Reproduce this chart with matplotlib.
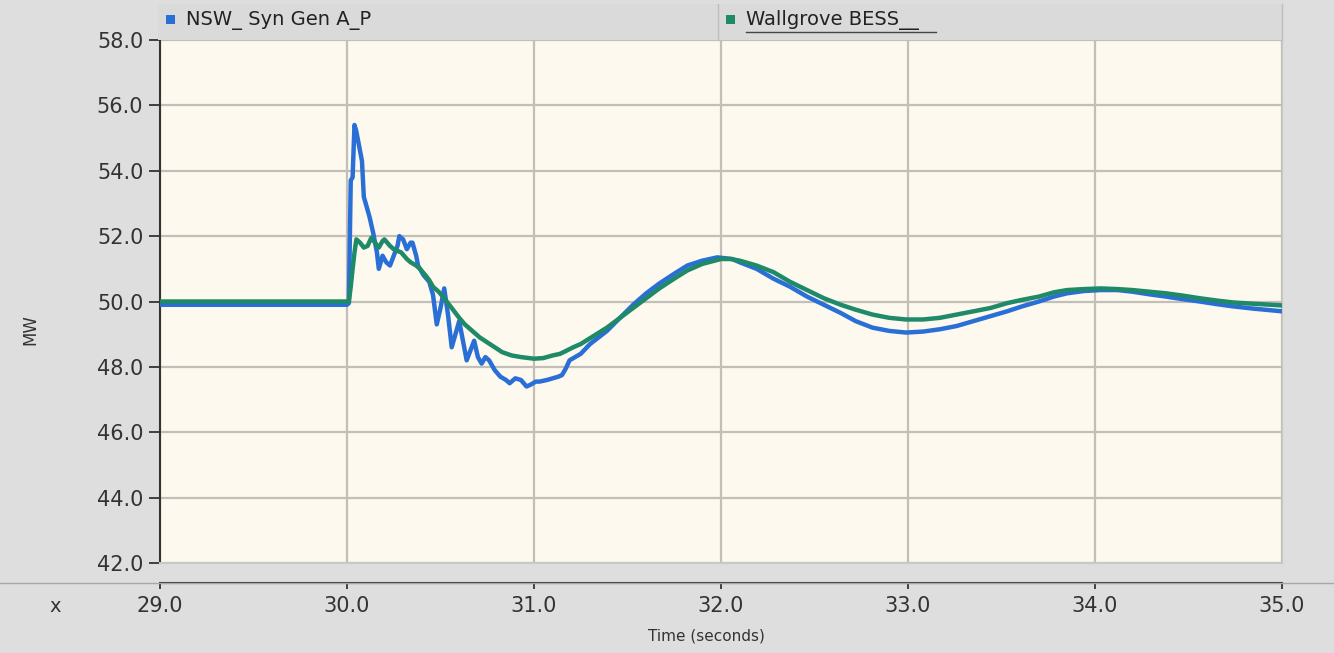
import matplotlib.pyplot as plt
from matplotlib.lines import Line2D
from matplotlib.patches import Rectangle

# NSW_ Syn Gen A_P (blue)
t_syn = [29.0, 30.0, 30.01, 30.02, 30.03, 30.04, 30.05, 30.06, 30.07, 30.08, 30.09,
         30.11, 30.12, 30.14, 30.16, 30.17, 30.19, 30.21, 30.23, 30.25, 30.27, 30.28,
         30.30, 30.32, 30.34, 30.35, 30.37, 30.38, 30.41, 30.44, 30.46, 30.48, 30.50,
         30.52, 30.54, 30.56, 30.58, 30.60, 30.62, 30.64, 30.66, 30.68, 30.70, 30.72,
         30.74, 30.76, 30.79, 30.82, 30.85, 30.87, 30.90, 30.93, 30.96, 30.98, 31.01,
         31.03, 31.07, 31.10, 31.13, 31.15, 31.17, 31.19, 31.22, 31.25, 31.30, 31.39,
         31.46, 31.53, 31.60, 31.67, 31.75, 31.82, 31.90, 31.98, 32.06, 32.10, 32.19,
         32.28, 32.37, 32.46, 32.55, 32.64, 32.72, 32.81, 32.90, 32.99, 33.08, 33.17,
         33.26, 33.35, 33.44, 33.53, 33.61, 33.70, 33.78, 33.85, 33.94, 34.03, 34.12,
         34.20, 34.29, 34.38, 34.47, 34.56, 34.65, 34.74, 34.85, 35.0]
p_syn = [49.9, 49.9, 49.95, 53.7, 53.8, 55.4, 55.2, 54.9, 54.6, 54.3, 53.2,
         52.8, 52.6, 52.1, 51.5, 51.0, 51.4, 51.2, 51.1, 51.4, 51.7, 52.0,
         51.9, 51.6, 51.8, 51.8, 51.4, 51.1, 50.8, 50.6, 50.2, 49.3, 49.8,
         50.4, 49.6, 48.6, 49.0, 49.4, 48.8, 48.2, 48.5, 48.8, 48.3, 48.1,
         48.3, 48.2, 47.9, 47.7, 47.6, 47.5, 47.65, 47.6, 47.4, 47.45, 47.55,
         47.55, 47.6, 47.65, 47.7, 47.75, 47.95, 48.2, 48.3, 48.4, 48.7, 49.1,
         49.5, 49.9, 50.25, 50.55, 50.85, 51.1, 51.25, 51.35, 51.3, 51.2, 51.0,
         50.7, 50.45, 50.15, 49.9, 49.65, 49.4, 49.2, 49.1, 49.05, 49.08, 49.15,
         49.25, 49.4, 49.55, 49.7, 49.85, 50.0, 50.15, 50.25, 50.32, 50.35, 50.35,
         50.3, 50.22, 50.15, 50.07, 50.0, 49.92, 49.85, 49.78, 49.7]

# Wallgrove BESS (green)
t_bess = [29.0, 30.01, 30.02, 30.03, 30.04, 30.05, 30.07, 30.09, 30.11, 30.13, 30.15,
          30.17, 30.19, 30.20, 30.23, 30.25, 30.27, 30.29, 30.32, 30.34, 30.37, 30.39,
          30.42, 30.44, 30.46, 30.49, 30.52, 30.56, 30.60, 30.63, 30.67, 30.71, 30.75,
          30.79, 30.83, 30.88, 30.93, 31.0, 31.05, 31.10, 31.14, 31.21, 31.25, 31.32,
          31.39, 31.46, 31.53, 31.60, 31.67, 31.75, 31.82, 31.90, 32.0, 32.05, 32.10,
          32.19, 32.28, 32.37, 32.46, 32.55, 32.64, 32.72, 32.81, 32.90, 32.99, 33.08,
          33.17, 33.26, 33.35, 33.44, 33.53, 33.61, 33.70, 33.78, 33.85, 33.94, 34.03,
          34.12, 34.20, 34.29, 34.38, 34.47, 34.56, 34.65, 34.74, 34.85, 35.0]
p_bess = [50.0, 50.0, 50.45, 51.0, 51.5, 51.9, 51.8, 51.65, 51.7, 51.95, 51.8,
          51.65, 51.85, 51.9, 51.7, 51.6, 51.55, 51.5, 51.3, 51.2, 51.1, 51.0,
          50.8, 50.65, 50.45, 50.3, 50.1, 49.8, 49.5, 49.3, 49.1, 48.9, 48.75,
          48.6, 48.45, 48.35, 48.3, 48.25, 48.27, 48.35, 48.4, 48.6, 48.7, 48.95,
          49.2, 49.5, 49.8, 50.1, 50.4, 50.7, 50.95, 51.15, 51.3, 51.3, 51.25,
          51.1, 50.9, 50.6, 50.35, 50.1, 49.9, 49.75, 49.6, 49.5, 49.45, 49.45,
          49.5, 49.6, 49.7, 49.8, 49.95, 50.05, 50.15, 50.28, 50.35, 50.38, 50.4,
          50.38, 50.35, 50.3, 50.25, 50.18, 50.1, 50.03, 49.97, 49.93, 49.88]

y_ticks = [42, 44, 46, 48, 50, 52, 54, 56, 58]
x_ticks = [29, 30, 31, 32, 33, 34, 35]
series_names = ["NSW_ Syn Gen A_P", "Wallgrove BESS__"]

BLUE = "#2a6fd6"
GREEN = "#1e8a68"
W, H = 1334, 653

fig = plt.figure(figsize=(W / 100, H / 100), dpi=100, facecolor="#dedede")

# legend band at top
fig.patches.append(Rectangle((158 / W, 1 - 40 / H), (1282 - 158) / W, 36 / H,
                             transform=fig.transFigure, facecolor="#dadada",
                             edgecolor="none", zorder=0))
fig.add_artist(Line2D([718 / W, 718 / W], [1 - 40 / H, 1 - 4 / H],
                      transform=fig.transFigure, color="#bdbdbd", lw=1))
fig.add_artist(Line2D([1282 / W, 1282 / W], [1 - 40 / H, 1 - 4 / H],
                      transform=fig.transFigure, color="#bdbdbd", lw=1))

# full-width separator above the time axis
fig.add_artist(Line2D([0, 1], [1 - 583 / H, 1 - 583 / H],
                      transform=fig.transFigure, color="#a8a8a8", lw=1))

ax = fig.add_axes([160 / W, 1 - 563 / H, 1122 / W, 523 / H])
ax.set_facecolor("#fdf9ef")
ax.plot(t_syn, p_syn, color=BLUE, lw=3.2, zorder=3)
ax.plot(t_bess, p_bess, color=GREEN, lw=3.2, zorder=4)

ax.set_xlim(29, 35)
ax.set_ylim(42, 58)
ax.set_yticks(y_ticks)
ax.set_yticklabels([f"{v:.1f}" for v in y_ticks])
ax.set_xticks(x_ticks)
ax.set_xticklabels([f"{v:.1f}" for v in x_ticks])
ax.grid(True, color="#c2beb8", lw=1.6)
ax.set_axisbelow(True)

ax.spines["top"].set_visible(False)
ax.spines["right"].set_color("#c8c8c8")
ax.spines["left"].set_color("#333333")
ax.spines["left"].set_linewidth(1.5)
ax.spines["bottom"].set_position(("outward", 14.4))
ax.spines["bottom"].set_color("#333333")
ax.spines["bottom"].set_linewidth(1.5)

ax.tick_params(axis="y", direction="out", length=8, width=1.3, colors="#333333",
               labelsize=15, pad=4)
ax.tick_params(axis="x", direction="out", length=4.5, width=1.3, colors="#333333",
               labelsize=15, pad=5)

# bottom edge of plot area
fig.add_artist(Line2D([160 / W, 1282 / W], [1 - 563 / H, 1 - 563 / H],
                      transform=fig.transFigure, color="#c8c8c8", lw=1.5))

fig.text(30 / W, 1 - 330 / H, "MW", rotation=90, ha="center", va="center",
         fontsize=12, color="#333333")
fig.text(55 / W, 1 - 606 / H, "x", ha="center", va="center", fontsize=14,
         color="#333333")
fig.text(706 / W, 1 - 636 / H, "Time (seconds)", ha="center", va="center",
         fontsize=11, color="#333333")

# legend entries
fig.patches.append(Rectangle((166 / W, 1 - 24 / H), 9 / W, 9 / H,
                             transform=fig.transFigure, facecolor=BLUE,
                             edgecolor="none"))
fig.text(186 / W, 1 - 20 / H, series_names[0], ha="left", va="center",
         fontsize=14, color="#222222")
fig.patches.append(Rectangle((726 / W, 1 - 24 / H), 9 / W, 9 / H,
                             transform=fig.transFigure, facecolor=GREEN,
                             edgecolor="none"))
fig.text(746 / W, 1 - 20 / H, series_names[1], ha="left", va="center",
         fontsize=14, color="#222222")
fig.add_artist(Line2D([746 / W, 936 / W], [1 - 32 / H, 1 - 32 / H],
                      transform=fig.transFigure, color="#444444", lw=1))

fig.savefig("out.png", dpi=100, facecolor=fig.get_facecolor())
